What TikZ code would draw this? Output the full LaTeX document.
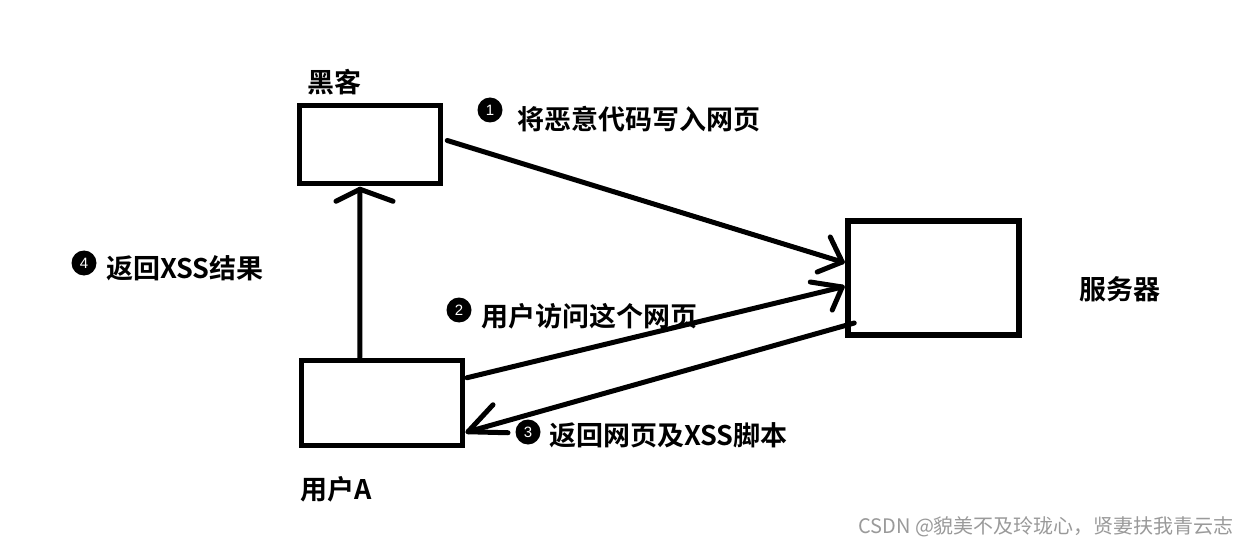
\documentclass[tikz,border=0pt]{standalone}
\usepackage{fontspec}
\newfontfamily\cjk{Noto Sans CJK SC}
\newfontfamily\cjkb{Noto Sans CJK SC Bold}
\newfontfamily\digitfont{Liberation Sans}
\usetikzlibrary{calc}
\definecolor{wm}{HTML}{9A9A9A}
\tikzset{
  boxnode/.style={draw=black, line width=5.5pt, rectangle, inner sep=0pt},
  conn/.style={line width=5pt, line cap=round, line join=round},
  lbl/.style={anchor=west, inner sep=0pt, font=\cjkb\fontsize{27}{30}\selectfont},
  numdot/.style={circle, fill=black, inner sep=0pt, minimum size=25pt, text=white, font=\digitfont\fontsize{15}{15}\selectfont},
}
\begin{document}
\begin{tikzpicture}[x=1pt,y=-1pt]
\useasboundingbox (0,0) rectangle (1245,548);
\fill[white] (0,0) rectangle (1245,548);
% boxes
\node[boxnode, minimum width=141pt, minimum height=78pt] (hacker) at (370,144.5) {};
\node[boxnode, minimum width=161pt, minimum height=85pt] (user) at (381.75,402.75) {};
\node[boxnode, minimum width=171pt, minimum height=114pt] (server) at (933.5,278) {};
% labels
\node[lbl] (thacker) at (307,82) {黑客};
\node[lbl] (tserver) at (1079,289) {服务器};
\node[lbl] (tuser) at (300,489) {用户A};
\node[numdot] (n1) at (490,110) {1};
\node[lbl] (t1) at (517,119) {将恶意代码写入网页};
\node[numdot] (n2) at (459,310) {2};
\node[lbl] (t2) at (481,316) {用户访问这个网页};
\node[numdot] (n3) at (528,432) {3};
\node[lbl] (t3) at (549,435) {返回网页及XSS脚本};
\node[numdot] (n4) at (84,263) {4};
\node[lbl] (t4) at (106,268) {返回XSS结果};
% connector end points
\coordinate (s1) at ($(hacker.east)+(4,-4)$);
\coordinate (e1) at ($(server.west)+(-3,-16)$);
\coordinate (s2) at ($(user.east)+(2,-25)$);
\coordinate (e2) at ($(server.west)+(-3,9)$);
\coordinate (s3) at ($(server.west)+(9,45)$);
\coordinate (e3) at ($(user.east)+(3,29)$);
\coordinate (s4) at ($(user.north)+(-22,0)$);
\coordinate (e4) at ($(hacker.south)+(-10,3)$);
% connectors with hand-drawn heads
\draw[conn] (s1) -- (e1);
\draw[conn] ($(e1)+(-12,-25)$) -- (e1) -- ($(e1)+(-25,10)$);
\draw[conn] (s2) -- (e2);
\draw[conn] ($(e2)+(-32,-5)$) -- (e2) -- ($(e2)+(-10,23)$);
\draw[conn] (s3) -- (e3);
\draw[conn] ($(e3)+(25,-27)$) -- (e3) -- ($(e3)+(40,1)$);
\draw[conn] (s4) -- (e4);
\draw[conn] ($(e4)+(-24,12)$) -- (e4) -- ($(e4)+(33,12)$);
% watermark
\node[anchor=west, inner sep=0pt, text=wm, font=\cjk\fontsize{20}{22}\selectfont] (wmark) at (858,527) {CSDN @貌美不及玲珑心，贤妻扶我青云志};
\end{tikzpicture}
\end{document}
